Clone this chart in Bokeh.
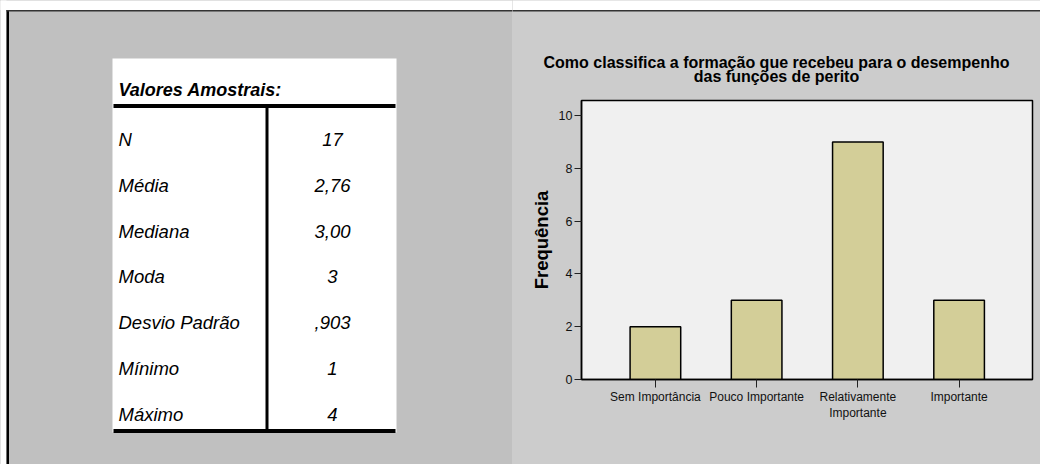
from bokeh.plotting import figure
from bokeh.layouts import row, column
from bokeh.models import Range1d, FixedTicker
from bokeh.core.properties import value
from bokeh.embed import file_html
from bokeh.resources import INLINE

# Summary statistics table
table_title = "Valores Amostrais:"
stat_names = ["N", "Média", "Mediana", "Moda", "Desvio Padrão", "Mínimo", "Máximo"]
stat_values = ["17", "2,76", "3,00", "3", ",903", "1", "4"]

# Frequency bar chart
chart_title = ["Como classifica a formação que recebeu para o desempenho",
               "das funções de perito"]
categories = ["Sem Importância", "Pouco Importante",
              "Relativamente\nImportante", "Importante"]
frequencies = [2, 3, 9, 3]
y_ticks = [0, 2, 4, 6, 8, 10]
y_label = "Frequência"

FONT = value("Liberation Sans")
W, H = 1040, 464
LEFT_W = 512
RIGHT_W = W - LEFT_W
HEAD_H = 89
LEFT_BG = "#c0c0c0"
RIGHT_BG = "#cccccc"


def blank(width, height, bg):
    p = figure(width=width, height=height, output_backend="svg",
               toolbar_location=None, x_axis_type=None, y_axis_type=None,
               x_range=Range1d(0, width), y_range=Range1d(height, 0),
               min_border=0, outline_line_color=None,
               background_fill_color=bg, border_fill_color=bg)
    p.grid.visible = False
    p.frame_align = False
    return p


# ---- left panel: statistics table ----
left = blank(LEFT_W, H, LEFT_BG)
left.quad(left=-2, right=LEFT_W + 2, top=-2, bottom=9.5, color="white", line_color=None)
left.quad(left=-2, right=6, top=-2, bottom=H + 2, color="white", line_color=None)
left.quad(left=6, right=8.5, top=9.5, bottom=H + 2, color="#000000", line_color=None)
left.quad(left=6, right=LEFT_W + 2, top=9.5, bottom=11, color="#333333", line_color=None)

tx0, tx1, ty0, ty1 = 112, 396, 58, 432
left.quad(left=tx0, right=tx1, top=ty0, bottom=ty1, color="white", line_color=None)
left.quad(left=113, right=395, top=103.5, bottom=107.5, color="black", line_color=None)
left.quad(left=113, right=395, top=428.5, bottom=432.5, color="black", line_color=None)
left.quad(left=265, right=268, top=107, bottom=429, color="black", line_color=None)

left.text(x=[118], y=[89], text=[table_title], text_font=FONT,
          text_font_style="bold italic", text_font_size="18px",
          text_baseline="middle", text_align="left", text_color="black")

row_y = [139 + i * 45.83 for i in range(len(stat_names))]
left.text(x=[118] * len(stat_names), y=row_y, text=stat_names, text_font=FONT,
          text_font_style="italic", text_font_size="18.5px",
          text_baseline="middle", text_align="left", text_color="black")
left.text(x=[332] * len(stat_values), y=row_y, text=stat_values, text_font=FONT,
          text_font_style="italic", text_font_size="18.5px",
          text_baseline="middle", text_align="center", text_color="black")

# ---- right panel header with the chart title ----
head = blank(RIGHT_W, HEAD_H, RIGHT_BG)
head.quad(left=-2, right=RIGHT_W + 2, top=-2, bottom=9.5, color="white", line_color=None)
head.quad(left=-2, right=RIGHT_W + 2, top=9.5, bottom=11, color="#333333", line_color=None)
head.text(x=[264, 264], y=[62, 76], text=chart_title, text_font=FONT,
          text_font_style="bold", text_font_size="16px",
          text_baseline="alphabetic", text_align="center", text_color="black")

# ---- bar chart ----
xs = list(range(1, len(categories) + 1))
chart = figure(width=RIGHT_W, height=H - HEAD_H, output_backend="svg",
               toolbar_location=None,
               x_range=Range1d(0.27, 4.725), y_range=Range1d(0, 10.57),
               min_border_left=69, min_border_right=8,
               min_border_top=11, min_border_bottom=85,
               background_fill_color="#f0f0f0", border_fill_color=RIGHT_BG,
               outline_line_color="black", outline_line_width=1.5)
chart.grid.visible = False
chart.frame_align = False

chart.vbar(x=xs, top=frequencies, width=0.5, fill_color="#d3ce98",
           line_color="black", line_width=1.5)

xa = chart.xaxis[0]
xa.ticker = FixedTicker(ticks=xs)
xa.major_label_overrides = {x: c for x, c in zip(xs, categories)}
xa.major_tick_in = 0
xa.major_tick_out = 8
xa.minor_tick_line_color = None
xa.axis_line_color = "black"
xa.axis_line_width = 1.5
xa.major_tick_line_color = "#222222"
xa.major_label_text_font = "Liberation Sans"
xa.major_label_text_font_size = "12px"
xa.major_label_text_color = "#111111"
xa.major_label_standoff = 2

ya = chart.yaxis[0]
ya.ticker = FixedTicker(ticks=y_ticks)
ya.major_tick_in = 0
ya.major_tick_out = 7
ya.minor_tick_line_color = None
ya.axis_line_color = "black"
ya.axis_line_width = 1.5
ya.major_tick_line_color = "#222222"
ya.major_label_text_font = "Liberation Sans"
ya.major_label_text_font_size = "12.5px"
ya.major_label_text_color = "#111111"
ya.major_label_standoff = 2
ya.axis_label = y_label
ya.axis_label_text_font = "Liberation Sans"
ya.axis_label_text_font_style = "bold"
ya.axis_label_text_font_size = "18.5px"
ya.axis_label_text_color = "black"
ya.axis_label_standoff = 4

right = column(head, chart, spacing=0, styles={"background-color": RIGHT_BG})
layout = row(left, right, spacing=0, styles={"background-color": "#c6c6c6"})

open("out.html", "w").write(file_html(layout, INLINE))
